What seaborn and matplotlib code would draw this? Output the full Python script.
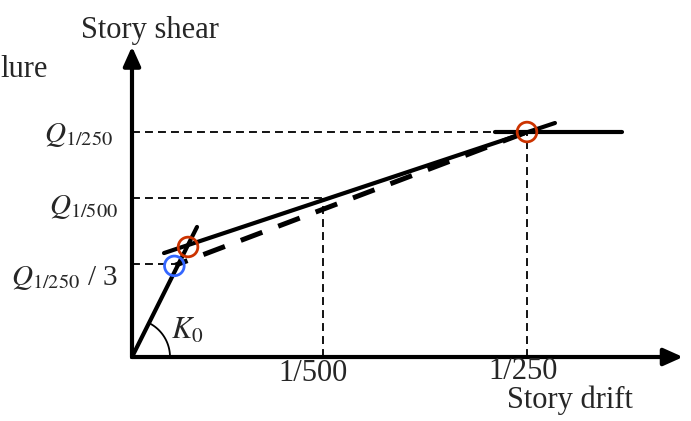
import numpy as np
import pandas as pd
import matplotlib.pyplot as plt
import seaborn as sns

sns.set_style("white")
plt.rcParams["font.family"] = ["Liberation Serif", "DejaVu Serif"]
plt.rcParams["mathtext.fontset"] = "stix"

# schematic units: x in 1/1000 drift, y in units of Q_1/250
drift_ticks = [1.94, 4.01]
drift_labels = ["1/500", "1/250"]
drift_guide_top = [0.707, 1.0]

shear_levels = [1.0, 0.707, 0.413]
shear_labels = [r"$Q_{1/250}$", r"$Q_{1/500}$", r"$Q_{1/250}$ / 3"]
shear_guide_end = [4.01, 1.94, 0.44]

# initial stiffness K0
k0_x = [0.0, 0.66]
k0_y = [0.0, 0.578]
# solid secant through the two red points
sec_x = [0.325, 4.294]
sec_y = [0.462, 1.04]
# thick dashed line from first yield to 1/250 point
dash_x = [0.44, 4.01]
dash_y = [0.408, 1.0]
# plateau
flat_x = [3.685, 4.975]
flat_y = [1.0, 1.0]
# marked points
red_x = [0.569, 4.01]
red_y = [0.489, 1.0]
blue_x = [0.43]
blue_y = [0.405]

xlim = (-1.34, 5.675)
ylim = (-0.2844, 1.5867)

fig = plt.figure(figsize=(6.91, 4.21), dpi=100)
ax = fig.add_axes([0, 0, 1, 1])
ax.set_xlim(*xlim)
ax.set_ylim(*ylim)
ax.axis("off")

# axes with arrows
arrow = dict(arrowstyle="-|>,head_length=0.58,head_width=0.26", lw=3,
             color="k", mutation_scale=20, shrinkA=0, shrinkB=0)
ax.annotate("", xy=(0, 1.38), xytext=(0, 0), arrowprops=arrow)
ax.annotate("", xy=(5.594, 0), xytext=(0, 0), arrowprops=arrow)

# thin dashed guides
thin = dict(color="k", lw=1.3, linestyle=(0, (4.4, 2.8)))
for lev, xe in zip(shear_levels, shear_guide_end):
    ax.plot([0, xe], [lev, lev], **thin)
for xt, yt in zip(drift_ticks, drift_guide_top):
    ax.plot([xt, xt], [0, yt], **thin)

# main lines
sns.lineplot(x=k0_x, y=k0_y, color="k", lw=3, sort=False, estimator=None, ax=ax)
sns.lineplot(x=sec_x, y=sec_y, color="k", lw=3, sort=False, estimator=None, ax=ax)
sns.lineplot(x=flat_x, y=flat_y, color="k", lw=3, sort=False, estimator=None, ax=ax)
sns.lineplot(x=dash_x, y=dash_y, color="k", lw=3.6, sort=False, estimator=None,
             linestyle=(2, (4.6, 3.4)), ax=ax)

# marked points
sns.scatterplot(x=red_x, y=red_y, s=200, facecolors="none", edgecolor="#cc3300",
                linewidth=2, ax=ax, zorder=5)
sns.scatterplot(x=blue_x, y=blue_y, s=200, facecolors="none", edgecolor="#3366ff",
                linewidth=2, ax=ax, zorder=5)

# K0 angle arc (circular in pixels)
sx = 691 / (xlim[1] - xlim[0])
sy = 421 / (ylim[1] - ylim[0])
r = 38
th = np.arctan2(k0_y[1] * sy, k0_x[1] * sx)
t = np.linspace(0, th, 50)
ax.plot(r * np.cos(t) / sx, r * np.sin(t) / sy, color="k", lw=1.3)

fs = 22
ax.text(0.56, 0.115, r"$K_0$", fontsize=fs, ha="center", va="center")
ax.text(0.183, 1.45, "Story shear", fontsize=fs, ha="center", va="center")
ax.text(-1.34, 1.28, "lure", fontsize=fs, ha="left", va="center")
ax.text(4.447, -0.19, "Story drift", fontsize=fs, ha="center", va="center")

label_dx = [-0.10, -0.04]
label_dy = [-0.072, -0.064]
for xt, lab, dx, dy in zip(drift_ticks, drift_labels, label_dx, label_dy):
    ax.text(xt + dx, dy, lab, fontsize=fs, ha="center", va="center")

label_y = [0.985, 0.665, 0.35]
label_x = [-0.19, -0.14, -0.14]
for lab, ly, lx in zip(shear_labels, label_y, label_x):
    ax.text(lx, ly, lab, fontsize=21, ha="right", va="center")

fig.savefig("out.png", dpi=100)
